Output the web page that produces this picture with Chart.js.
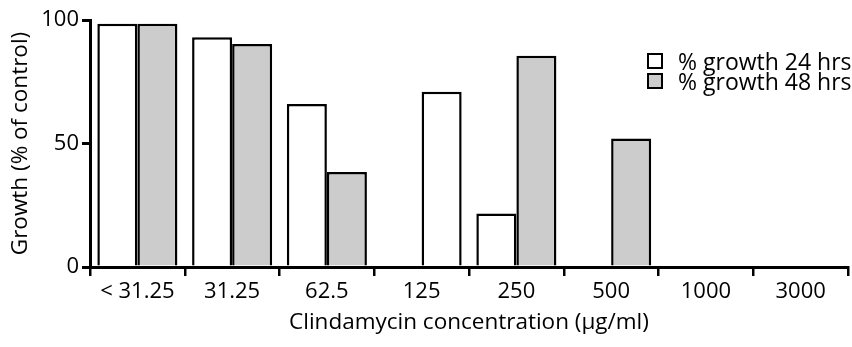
<!DOCTYPE html>
<html>
<head>
<meta charset="utf-8">
<script src="https://cdn.jsdelivr.net/npm/chart.js@4"></script>
<style>
  body { margin: 0; background: #fff; }
  #wrap { position: relative; width: 852px; height: 347px; }
  #legend { position: absolute; left: 647px; top: 51px; font: 23px "Open Sans", sans-serif; color: #000; }
  #legend div { display: flex; align-items: center; height: 20px; white-space: nowrap; }
  #legend span.box { display: inline-block; width: 12px; height: 12px; border: 2.5px solid #000; margin-right: 15px; }
</style>
</head>
<body>
<div id="wrap">
  <canvas id="chart" width="852" height="347"></canvas>
  <div id="legend"></div>
</div>
<script>
// growth per clindamycin concentration
const categories = ['< 31.25', '31.25', '62.5', '125', '250', '500', '1000', '3000'];
const growth24 = [98.5, 93, 66, 0.6, 21.7, 0.6, 0.6, 0.6];
const growth48 = [98.5, 90.3, 38.5, 71, 85.5, 52, 0.6, 0.6];
const seriesNames = ['% growth 24 hrs', '% growth 48 hrs'];
const yTicks = [0, 50, 100];

const gray = '#cccccc';
const tickFont = { family: 'Open Sans', size: 22 };
const titleFont = { family: 'Open Sans', size: 22.5 };

document.getElementById('legend').innerHTML = seriesNames.map((n, i) =>
  `<div><span class="box" style="background:${i ? gray : '#fff'}"></span>${n}</div>`).join('');

new Chart(document.getElementById('chart'), {
  type: 'bar',
  data: {
    labels: categories,
    datasets: [
      { label: seriesNames[0], data: growth24, backgroundColor: '#fff', borderColor: '#000', borderWidth: 2.5 },
      { label: seriesNames[1], data: growth48,
        // the 125 bar is drawn unfilled in the original figure
        backgroundColor: c => categories[c.dataIndex] === '125' ? '#fff' : gray,
        borderColor: '#000', borderWidth: 2.5 }
    ]
  },
  options: {
    responsive: false,
    animation: false,
    layout: { padding: { top: 20, right: 4 } },
    plugins: { legend: { display: false }, tooltip: { enabled: false } },
    datasets: { bar: { categoryPercentage: 0.845, barPercentage: 1 } },
    scales: {
      x: {
        afterFit: s => { s.height = 80; },
        border: { display: true, color: '#000', width: 3 },
        grid: { display: true, drawOnChartArea: false, drawTicks: true, tickLength: 9, color: '#000', lineWidth: 2.5 },
        ticks: { color: '#000', font: tickFont, padding: 3, maxRotation: 0 },
        title: { display: true, text: 'Clindamycin concentration (µg/ml)', color: '#000', font: titleFont, padding: { top: 0, bottom: 11 } }
      },
      y: {
        min: 0, max: 100,
        afterFit: s => { s.width = 90; },
        afterBuildTicks: s => { s.ticks = yTicks.map(v => ({ value: v })); },
        border: { display: true, color: '#000', width: 3 },
        grid: { display: true, drawOnChartArea: false, drawTicks: true, tickLength: 8, color: '#000', lineWidth: 3 },
        ticks: { color: '#000', font: tickFont, padding: 3 },
        title: { display: true, text: 'Growth (% of control)', color: '#000', font: titleFont, padding: { top: 7, bottom: 0 } }
      }
    }
  }
});
</script>
</body>
</html>
